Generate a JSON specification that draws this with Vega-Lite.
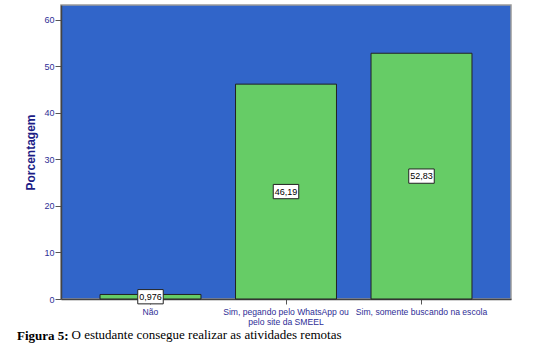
{
  "$schema": "https://vega.github.io/schema/vega-lite/v6.json",
  "width": 450,
  "height": 294,
  "autosize": {"type": "none"},
  "padding": {"left": 61, "top": 5, "right": 38, "bottom": 44},
  "background": "white",
  "config": {
    "view": {"fill": "#3165C9", "stroke": "#9a9a9a", "strokeWidth": 1.5},
    "font": "Liberation Sans"
  },
  "title": {
    "text": "Figura 5:",
    "orient": "bottom",
    "anchor": "start",
    "frame": "group",
    "font": "Liberation Serif",
    "fontSize": 13,
    "fontWeight": "bold",
    "color": "black",
    "baseline": "alphabetic",
    "offset": 0,
    "dx": -44,
    "dy": -1
  },
  "data": {
    "values": [
      {"categoria": "Não", "porcentagem": 0.976, "rotulo": "0,976"},
      {"categoria": "Sim, pegando pelo WhatsApp ou pelo site da SMEEL", "porcentagem": 46.19, "rotulo": "46,19"},
      {"categoria": "Sim, somente buscando na escola", "porcentagem": 52.83, "rotulo": "52,83"}
    ]
  },
  "encoding": {
    "x": {
      "field": "categoria",
      "type": "nominal",
      "sort": null,
      "scale": {"paddingInner": 0.255, "paddingOuter": 0.288},
      "axis": {
        "title": "O estudante consegue realizar as atividades remotas",
        "titleX": 10,
        "titleY": 39,
        "titleAlign": "left",
        "titleAnchor": null,
        "titleBaseline": "alphabetic",
        "titleFont": "Liberation Serif",
        "titleFontSize": 13,
        "titleFontWeight": "normal",
        "titleColor": "black",
        "labelAngle": 0,
        "labelFontSize": 8.6,
        "labelColor": "#2e2e96",
        "labelPadding": 3,
        "labelLimit": 200,
        "labelLineHeight": 10,
        "labelExpr": "datum.value == 'Sim, pegando pelo WhatsApp ou pelo site da SMEEL' ? ['Sim, pegando pelo WhatsApp ou', 'pelo site da SMEEL'] : datum.value",
        "tickSize": 5,
        "tickColor": "#555555",
        "domainColor": "#444444",
        "domainWidth": 1.5
      }
    }
  },
  "layer": [
    {
      "mark": {"type": "bar", "color": "#66CC66", "stroke": "#222222", "strokeWidth": 1},
      "encoding": {
        "y": {
          "field": "porcentagem",
          "type": "quantitative",
          "scale": {"domain": [0, 63.2], "nice": false},
          "axis": {
            "title": "Porcentagem",
            "titleFontSize": 12,
            "titleFontWeight": "bold",
            "titleColor": "#1c1c86",
            "titlePadding": 6,
            "values": [0, 10, 20, 30, 40, 50, 60],
            "labelFontSize": 9,
            "labelColor": "#2e2e96",
            "labelPadding": 1,
            "tickSize": 6,
            "tickColor": "#555555",
            "domainColor": "#444444",
            "domainWidth": 1.5,
            "grid": false
          }
        }
      }
    },
    {
      "mark": {
        "type": "point",
        "shape": "M-1,-0.56H1V0.56H-1Z",
        "size": 650,
        "filled": true,
        "fill": "white",
        "stroke": "#222222",
        "strokeWidth": 1,
        "opacity": 1
      },
      "encoding": {
        "y": {
          "field": "porcentagem",
          "type": "quantitative",
          "scale": {"domain": [0, 126.4], "nice": false},
          "axis": null
        }
      }
    },
    {
      "mark": {"type": "text", "fontSize": 9, "color": "black", "baseline": "middle"},
      "encoding": {
        "y": {
          "field": "porcentagem",
          "type": "quantitative",
          "scale": {"domain": [0, 126.4], "nice": false},
          "axis": null
        },
        "text": {"field": "rotulo"}
      }
    }
  ],
  "resolve": {"scale": {"y": "independent"}}
}
